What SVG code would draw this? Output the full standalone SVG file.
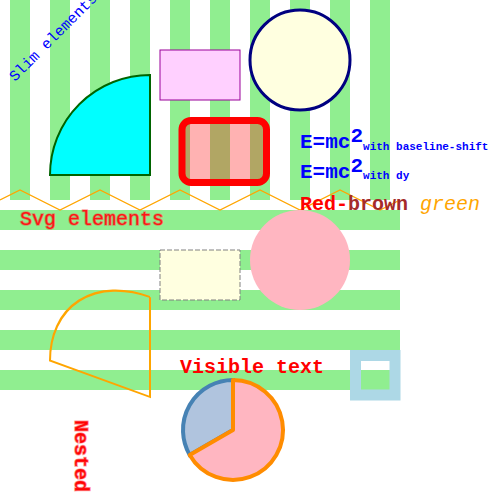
<svg xmlns="http://www.w3.org/2000/svg" width="500" height="500" viewBox="0 0 500 500">
<style>
.vs{fill:#90ee90}
.mono{font-family:"Liberation Mono","Courier New",monospace}
.glow{fill:#ff0000;stroke:#ff3030;stroke-opacity:0.45;stroke-width:1.6}
</style>
<rect width="500" height="500" fill="#ffffff"/>
<g id="stripes-v" class="vs">
<rect x="10" y="0" width="20" height="200"/>
<rect x="50" y="0" width="20" height="200"/>
<rect x="90" y="0" width="20" height="200"/>
<rect x="130" y="0" width="20" height="200"/>
<rect x="170" y="0" width="20" height="200"/>
<rect x="210" y="0" width="20" height="200"/>
<rect x="250" y="0" width="20" height="200"/>
<rect x="290" y="0" width="20" height="200"/>
<rect x="330" y="0" width="20" height="200"/>
<rect x="370" y="0" width="20" height="200"/>
</g>
<g id="stripes-h" class="vs">
<rect x="0" y="210" width="400" height="20"/>
<rect x="0" y="250" width="400" height="20"/>
<rect x="0" y="290" width="400" height="20"/>
<rect x="0" y="330" width="400" height="20"/>
<rect x="0" y="370" width="400" height="20"/>
</g>
<g id="zigzag">
<polyline points="0,200 20,190 60,210 100,190 140,210 180,190 220,210 260,190 300,210 340,190 380,210 400,200" fill="none" stroke="#ffa500" stroke-width="1.2"/>
</g>
<g id="slim-text">
<text class="mono" transform="translate(15,82) rotate(-45)" font-size="15" fill="#0000ff">Slim elements</text>
</g>
<g id="quarter">
<path d="M50,175 A100,100 0 0,1 150,75 L150,175 Z" fill="#00ffff" stroke="#006400" stroke-width="2"/>
</g>
<g id="pink-rect">
<rect x="160" y="50" width="80" height="50" fill="#ffd0ff" stroke="#990099" stroke-width="1"/>
</g>
<g id="yellow-circle">
<circle cx="300" cy="60" r="50" fill="#ffffe0" stroke="#000080" stroke-width="3"/>
</g>
<g id="red-rect">
<rect x="182" y="120.5" width="84.5" height="62" rx="9" fill="#ff0000" fill-opacity="0.3" stroke="#ff0000" stroke-width="7"/>
</g>
<g id="emc">
<text class="mono" x="300" y="148" font-size="21" font-weight="bold" fill="#0000ff">E=mc<tspan dy="-6">2</tspan><tspan dy="8" font-size="11">with baseline-shift</tspan></text>
<text class="mono" x="300" y="178" font-size="21" font-weight="bold" fill="#0000ff">E=mc<tspan dy="-6">2</tspan><tspan dy="7" font-size="11">with dy</tspan></text>
</g>
<g id="red-brown">
<text class="mono" x="300" y="210" font-size="20" font-weight="bold"><tspan fill="#ff0000">Red-</tspan><tspan fill="#a52a2a">brown</tspan><tspan fill="#ffa500" font-weight="normal" font-style="italic"> green</tspan></text>
</g>
<g id="svg-text">
<text class="mono glow" x="20" y="225" font-size="20">Svg elements</text>
</g>
<g id="dashed-rect">
<rect x="160" y="250" width="80" height="50" fill="#ffffe0" stroke="#808080" stroke-width="1" stroke-dasharray="5,2"/>
</g>
<g id="pink-circle">
<circle cx="300" cy="260" r="50" fill="#ffb6c1"/>
</g>
<g id="skew-wedge">
<path transform="translate(150,397) skewY(20)" d="M0,-100 L0,0 L-100,0 A100,100 0 0,1 0,-100" fill="none" stroke="#ffa500" stroke-width="2"/>
</g>
<g id="visible-text">
<text class="mono" x="180" y="373" font-size="20" font-weight="bold" fill="#ff0000">Visible text</text>
</g>
<g id="blue-square">
<rect x="355.5" y="355.5" width="39.5" height="39.5" fill="none" stroke="#add8e6" stroke-width="11"/>
</g>
<g id="pie">
<path d="M233,430 L189.7,455 A50,50 0 0,1 233,380 Z" fill="#b0c4de" stroke="#4682b4" stroke-width="4"/>
<path d="M233,430 L233,380 A50,50 0 1,1 189.7,455 Z" fill="#ffb6c1" stroke="#ff8c00" stroke-width="4" stroke-linejoin="round"/>
</g>
<g id="nested">
<text class="mono glow" transform="translate(75,420) rotate(90)" font-size="20" font-weight="bold">Nested</text>
</g>
</svg>
